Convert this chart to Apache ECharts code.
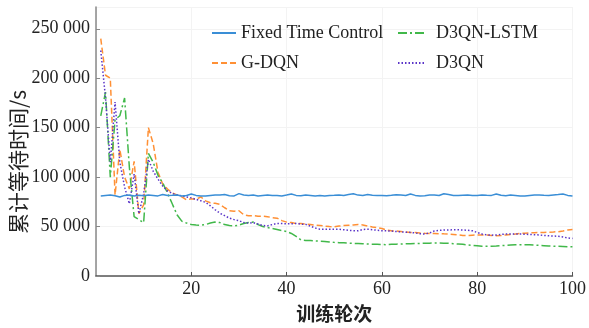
<!DOCTYPE html>
<html>
<head>
<meta charset="utf-8">
<script src="https://cdn.jsdelivr.net/npm/echarts@6/dist/echarts.min.js"></script>
<style>
html,body{margin:0;padding:0;background:#fff;}
#chart{width:589px;height:328px;}
</style>
</head>
<body>
<div id="chart"></div>
<script>
const seriesNames = ['Fixed Time Control', 'G-DQN', 'D3QN-LSTM', 'D3QN'];
const xTicks = [20, 40, 60, 80, 100];
const yTicks = [0, 50000, 100000, 150000, 200000, 250000];

const fixedTime = [
81000,81500,82000,81200,79800,81500,81800,81000,81600,81200,
82000,81500,81000,82500,81300,81600,82000,81000,81400,83000,
81500,81000,80800,81500,82000,81800,82500,81200,81000,83300,
82000,81500,81800,81000,81400,81800,81300,81500,81000,81800,
83000,81500,81200,81800,81500,81000,81400,80800,81500,81600,
82000,81500,82400,83200,81800,81500,82300,81600,81400,81500,
81200,81600,82200,81800,81400,83000,81500,81000,81200,81800,
82000,81400,83200,82500,81500,81300,81600,81800,81500,81400,
81800,81600,81500,83000,81600,81200,81800,81500,81000,80900,
81500,81800,82000,81700,81500,82000,82400,83000,81500,81000];

const gdqn = [
240000,203000,200000,82000,128000,100000,88000,116000,63000,72000,
150000,134000,105000,93000,88000,84000,82000,80000,77000,78000,
77500,80000,76000,74000,73500,72500,69000,66000,65500,66000,
62000,61000,61000,60500,60500,60000,59000,58500,56000,54500,
54000,53000,53000,52500,52000,51500,51000,50500,50000,49700,
50500,51000,51300,51500,52000,51600,50500,49500,49000,48000,
46500,45700,45500,45000,44500,44100,44000,43500,43200,43100,
43000,42800,42600,42500,42000,41500,41000,40800,41200,41500,
41500,41500,41000,40800,41000,41500,42000,42500,43100,43200,
43500,43800,44000,44100,44300,44500,44800,45500,46500,47000];

const d3qnLstm = [
162000,186000,100000,158000,162000,180000,110000,60000,57000,54000,
124000,115000,102000,94000,84000,73000,62000,55500,53500,52000,
51500,51300,52000,53500,54500,54000,52000,51000,50600,51500,
53000,54000,54500,52000,50000,49000,48000,47000,46000,45000,
43000,40000,36500,36000,35800,35500,35200,35000,34500,34000,
33700,33500,33200,33000,32800,32600,32400,32200,32000,31800,
31700,32000,32200,32400,32600,32600,32800,33000,33000,33200,
33300,33300,33200,33000,32600,32300,32000,31500,31000,30500,
30000,30000,30200,30400,30800,31000,31300,31600,31700,31700,
31500,31200,31000,30700,30400,30200,30000,29800,29600,29500];

const d3qn = [
228000,180000,115000,176000,115000,90000,73000,103000,63000,83000,
118000,106000,98000,91000,86000,83500,82000,81000,80000,79000,
77500,76000,74500,71000,67000,63500,61000,58500,57000,56000,
54000,53500,54000,52500,51000,50700,52000,53200,53000,52800,
52900,53000,52500,52200,50500,48500,47300,47300,47300,47200,
47300,46800,46200,45800,45700,47000,47300,46800,46300,45800,
45700,45400,45000,44700,44300,44100,43500,42700,42500,43500,
45500,46200,46500,46600,46700,46700,46500,46200,45700,44000,
42500,41500,41300,41500,42000,42400,42500,42500,42400,42200,
42000,41800,41500,41000,40600,40400,40200,39500,38500,38000];

const episodes = fixedTime.map((_, i) => i + 1);
const pairs = arr => arr.map((v, i) => [episodes[i], v]);

const serif = 'Liberation Serif, Times New Roman, serif';
const cjk = 'Noto Sans CJK SC, sans-serif';
const colors = ['#3a8ed6', '#ff9035', '#41b84a', '#5a34c8'];
const dashes = ['solid', [6, 3], [9, 3, 2, 3], [1.5, 2]];
const values = [fixedTime, gdqn, d3qnLstm, d3qn];

const chart = echarts.init(document.getElementById('chart'));
chart.setOption({
  animation: false,
  backgroundColor: '#fff',
  grid: { left: 96, right: 16, top: 7, bottom: 43 },
  legend: [
    {
      data: [seriesNames[0], seriesNames[1]],
      orient: 'vertical', left: 211, top: 24, padding: 0,
      itemWidth: 24, itemHeight: 10, itemGap: 12,
      itemStyle: { opacity: 0 },
      textStyle: { fontFamily: serif, fontSize: 18, color: '#222' }
    },
    {
      data: [seriesNames[2], seriesNames[3]],
      orient: 'vertical', left: 397, top: 24, padding: 0,
      itemWidth: 27, itemHeight: 10, itemGap: 12,
      itemStyle: { opacity: 0 },
      textStyle: { fontFamily: serif, fontSize: 18, color: '#222', padding: [0, 0, 0, 6] }
    }
  ],
  xAxis: {
    type: 'value', min: 0, max: 100, interval: 20,
    name: '训练轮次', nameLocation: 'middle', nameGap: 28,
    nameTextStyle: { fontFamily: cjk, fontSize: 19, fontWeight: 'bold', color: '#222' },
    axisLine: { lineStyle: { color: '#555', width: 1.5 } },
    axisTick: { inside: true, length: 4, lineStyle: { color: '#555' } },
    axisLabel: { showMinLabel: false, fontFamily: serif, fontSize: 18, color: '#222', margin: 4 },
    splitLine: { show: true, lineStyle: { color: '#f3f3f3', width: 1 } }
  },
  yAxis: {
    type: 'value', min: 0, max: 272000, interval: 50000,
    axisLine: { show: true, lineStyle: { color: '#888', width: 1.5 } },
    axisTick: { show: true, inside: true, length: 4, lineStyle: { color: '#888' } },
    axisLabel: {
      showMaxLabel: false,
      fontFamily: serif, fontSize: 18, color: '#222', margin: 6,
      formatter: v => String(v).replace(/\B(?=(\d{3})+(?!\d))/g, ' ')
    },
    splitLine: { show: true, lineStyle: { color: '#f3f3f3', width: 1 } }
  },
  graphic: [{
    type: 'text', left: 8, top: 90, rotation: Math.PI / 2,
    style: { text: '累计等待时间/s', font: '21px ' + cjk, fill: '#222' }
  }],
  series: seriesNames.map((name, k) => ({
    name, type: 'line', data: pairs(values[k]), showSymbol: false, symbol: 'none',
    lineStyle: { color: colors[k], width: 1.5, type: dashes[k] },
    itemStyle: { color: colors[k] }, z: k === 0 ? 5 : 3
  }))
});
</script>
</body>
</html>
